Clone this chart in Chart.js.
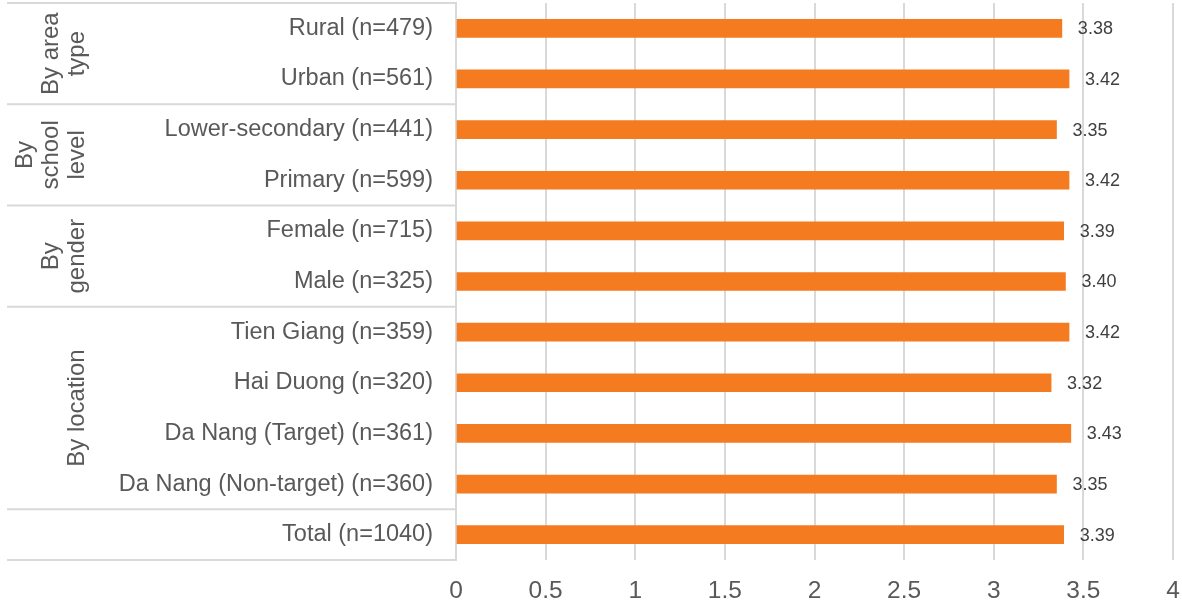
<!DOCTYPE html>
<html>
<head>
<meta charset="utf-8">
<script src="https://cdn.jsdelivr.net/npm/chart.js@4/dist/chart.umd.min.js"></script>
<style>
  html, body { margin: 0; padding: 0; background: #fff; }
  #wrap { width: 1182px; height: 601px; }
</style>
</head>
<body>
<div id="wrap"><canvas id="scoreChart"></canvas></div>
<script>
// categories (top to bottom) and mean scores
const labels = [
    'Rural (n=479)', 'Urban (n=561)',
    'Lower-secondary (n=441)', 'Primary (n=599)',
    'Female (n=715)', 'Male (n=325)',
    'Tien Giang (n=359)', 'Hai Duong (n=320)', 'Da Nang (Target) (n=361)', 'Da Nang (Non-target) (n=360)',
    'Total (n=1040)'
];
const scores = [3.38, 3.42, 3.35, 3.42, 3.39, 3.40, 3.42, 3.32, 3.43, 3.35, 3.39];

// outer grouping of the category axis
const groupNames = [['By area', 'type'], ['By', 'school', 'level'], ['By', 'gender'], ['By location'], []];
const groupSizes = [2, 2, 2, 4, 1];

const FONT = "'Liberation Sans', Arial, sans-serif";
const GRID = '#d9d9d9';

// value labels after the end of each bar
const valueLabels = {
    id: 'valueLabels',
    afterDatasetsDraw(chart) {
        const ctx = chart.ctx;
        const meta = chart.getDatasetMeta(0);
        ctx.save();
        ctx.font = '18px ' + FONT;
        ctx.fillStyle = '#404040';
        ctx.textAlign = 'left';
        ctx.textBaseline = 'middle';
        meta.data.forEach((bar, i) => {
            ctx.fillText(scores[i].toFixed(2), bar.x + 16, bar.y + 1);
        });
        ctx.restore();
    }
};

// group separators and rotated group titles on the left
const groupAxis = {
    id: 'groupAxis',
    afterDraw(chart) {
        const ctx = chart.ctx;
        const y = chart.scales.y;
        const area = chart.chartArea;
        const edge = (i) => {
            if (i <= 0) return area.top;
            if (i >= labels.length) return area.bottom;
            return (y.getPixelForValue(i - 1) + y.getPixelForValue(i)) / 2;
        };
        ctx.save();
        ctx.strokeStyle = GRID;
        ctx.lineWidth = 2;
        let start = 0;
        const lines = [edge(0)];
        groupSizes.forEach(n => { start += n; lines.push(edge(start)); });
        lines.forEach(py => {
            ctx.beginPath();
            ctx.moveTo(7, py);
            ctx.lineTo(area.left, py);
            ctx.stroke();
        });

        ctx.font = '24px ' + FONT;
        ctx.fillStyle = '#595959';
        ctx.textAlign = 'center';
        ctx.textBaseline = 'middle';
        start = 0;
        groupSizes.forEach((n, g) => {
            const top = edge(start), bottom = edge(start + n);
            const cy = (top + bottom) / 2;
            const rows = groupNames[g];
            rows.forEach((txt, r) => {
                const cx = 77 - (rows.length - 1 - r) * 26;
                ctx.save();
                ctx.translate(cx, cy);
                ctx.rotate(-Math.PI / 2);
                ctx.fillText(txt, 0, 0);
                ctx.restore();
            });
            start += n;
        });
        ctx.restore();
    }
};

const scoreChart = new Chart(document.getElementById('scoreChart'), {
    type: 'bar',
    data: {
        labels: labels,
        datasets: [{
            label: 'Score',
            data: scores,
            backgroundColor: '#f47b20',
            borderWidth: 0,
            barThickness: 18
        }]
    },
    options: {
        indexAxis: 'y',
        responsive: true,
        maintainAspectRatio: false,
        animation: false,
        layout: { padding: { top: 3, right: 9, bottom: 0, left: 0 } },
        scales: {
            x: {
                min: 0,
                max: 4,
                ticks: {
                    stepSize: 0.5,
                    padding: 0,
                    color: '#595959',
                    font: { family: FONT, size: 24.5 },
                    callback: (v) => String(v)
                },
                // hidden tick marks give the gap between gridlines and labels
                grid: { color: GRID, lineWidth: 2, drawTicks: true, tickLength: 17, tickColor: 'rgba(0,0,0,0)' },
                border: { display: false },
                afterFit(scale) { scale.height = 41; }
            },
            y: {
                ticks: {
                    padding: 0,
                    color: '#595959',
                    font: { family: FONT, size: 23.5, lineHeight: 0.1 }
                },
                grid: { display: true, drawOnChartArea: false, drawTicks: true, tickLength: 23, color: 'rgba(0,0,0,0)' },
                border: { display: true, color: GRID, width: 2 },
                afterFit(scale) { scale.width = 456; }
            }
        },
        plugins: {
            legend: { display: false },
            tooltip: { enabled: false }
        }
    },
    plugins: [valueLabels, groupAxis]
});
</script>
</body>
</html>
